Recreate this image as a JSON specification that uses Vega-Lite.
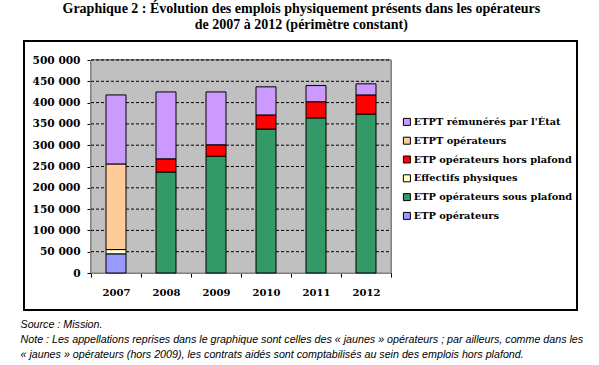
{
  "$schema": "https://vega.github.io/schema/vega-lite/v6.json",
  "autosize": {"type": "none"},
  "padding": {"left": 91, "top": 60, "right": 208, "bottom": 92},
  "width": 300,
  "height": 213,
  "background": "white",
  "config": {
    "locale": {"number": {"decimal": ",", "thousands": " ", "grouping": [3], "currency": ["", " €"]}},
    "view": {"stroke": null},
    "axisY": {
      "tickSize": 4, "tickColor": "black", "domainColor": "black",
      "labelFont": "DejaVu Serif", "labelFontWeight": "bold", "labelFontSize": 10.6, "labelColor": "black",
      "labelPadding": 7, "labelOverlap": false, "grid": false, "zindex": 1
    },
    "axisX": {
      "tickSize": 4, "tickColor": "black", "domainColor": "black",
      "labelFont": "DejaVu Serif", "labelFontWeight": "bold", "labelFontSize": 10, "labelColor": "black",
      "labelPadding": 10, "labelOverlap": false, "labelFlush": false, "grid": false, "zindex": 1,
      "titleFont": "Liberation Sans", "titleFontStyle": "italic", "titleFontWeight": "normal",
      "titleFontSize": 10.7, "titleColor": "black", "titleAnchor": "start", "titleAlign": "left",
      "titleBaseline": "alphabetic", "titleLineHeight": 15, "titleX": -71, "titleY": 54
    }
  },
  "title": {
    "text": ["Graphique 2 : Évolution des emplois physiquement présents dans les opérateurs", "de 2007 à 2012 (périmètre constant)"],
    "font": "Liberation Serif",
    "fontSize": 14,
    "fontWeight": "bold",
    "color": "black",
    "anchor": "middle",
    "frame": "bounds",
    "lineHeight": 16,
    "offset": 9
  },
  "data": {
    "values": [
      {"year": 2007, "series": "ETP opérateurs", "value": 45000},
      {"year": 2007, "series": "Effectifs physiques", "value": 10000},
      {"year": 2007, "series": "ETPT opérateurs", "value": 201000},
      {"year": 2007, "series": "ETPT rémunérés par l'État", "value": 162000},
      {"year": 2008, "series": "ETP opérateurs sous plafond", "value": 237000},
      {"year": 2008, "series": "ETP opérateurs hors plafond", "value": 31000},
      {"year": 2008, "series": "ETPT rémunérés par l'État", "value": 157000},
      {"year": 2009, "series": "ETP opérateurs sous plafond", "value": 274000},
      {"year": 2009, "series": "ETP opérateurs hors plafond", "value": 27000},
      {"year": 2009, "series": "ETPT rémunérés par l'État", "value": 124000},
      {"year": 2010, "series": "ETP opérateurs sous plafond", "value": 338000},
      {"year": 2010, "series": "ETP opérateurs hors plafond", "value": 33000},
      {"year": 2010, "series": "ETPT rémunérés par l'État", "value": 66000},
      {"year": 2011, "series": "ETP opérateurs sous plafond", "value": 364000},
      {"year": 2011, "series": "ETP opérateurs hors plafond", "value": 38000},
      {"year": 2011, "series": "ETPT rémunérés par l'État", "value": 38000},
      {"year": 2012, "series": "ETP opérateurs sous plafond", "value": 373000},
      {"year": 2012, "series": "ETP opérateurs hors plafond", "value": 45000},
      {"year": 2012, "series": "ETPT rémunérés par l'État", "value": 26000}
    ]
  },
  "layer": [
    {
      "mark": {"type": "rect", "color": "#C0C0C0", "stroke": "#808080", "strokeWidth": 1, "clip": false},
      "encoding": {
        "x": {"datum": 2006.5, "type": "quantitative",
          "axis": {
            "values": [2006.5, 2007, 2007.5, 2008, 2008.5, 2009, 2009.5, 2010, 2010.5, 2011, 2011.5, 2012, 2012.5],
            "labelExpr": "datum.value % 1 == 0 ? toString(datum.value) : ''",
            "tickOpacity": {"condition": {"test": "datum.value % 1 == 0", "value": 0}, "value": 1},
            "grid": false,
            "title": [
              "Source : Mission.",
              "Note : Les appellations reprises dans le graphique sont celles des « jaunes » opérateurs ; par ailleurs, comme dans les",
              "« jaunes » opérateurs (hors 2009), les contrats aidés sont comptabilisés au sein des emplois hors plafond."
            ]
          }
        },
        "x2": {"datum": 2012.5},
        "y": {"datum": 0, "type": "quantitative",
          "axis": {
            "values": [0, 50000, 100000, 150000, 200000, 250000, 300000, 350000, 400000, 450000, 500000],
            "format": ",d",
            "title": null,
            "grid": false
          }
        },
        "y2": {"datum": 500000}
      }
    },
    {
      "data": {"values": [{"gridValue": 50000}, {"gridValue": 100000}, {"gridValue": 150000}, {"gridValue": 200000}, {"gridValue": 250000}, {"gridValue": 300000}, {"gridValue": 350000}, {"gridValue": 400000}, {"gridValue": 450000}, {"gridValue": 500000}]},
      "mark": {"type": "rule", "color": "black", "strokeWidth": 1, "strokeDash": [3, 2]},
      "encoding": {
        "x": {"datum": 2006.5, "type": "quantitative",
          "axis": {
            "values": [2006.5, 2007, 2007.5, 2008, 2008.5, 2009, 2009.5, 2010, 2010.5, 2011, 2011.5, 2012, 2012.5],
            "labelExpr": "datum.value % 1 == 0 ? toString(datum.value) : ''",
            "tickOpacity": {"condition": {"test": "datum.value % 1 == 0", "value": 0}, "value": 1},
            "grid": false,
            "title": [
              "Source : Mission.",
              "Note : Les appellations reprises dans le graphique sont celles des « jaunes » opérateurs ; par ailleurs, comme dans les",
              "« jaunes » opérateurs (hors 2009), les contrats aidés sont comptabilisés au sein des emplois hors plafond."
            ]
          }
        },
        "x2": {"datum": 2012.5},
        "y": {"field": "gridValue", "type": "quantitative",
          "axis": {
            "values": [0, 50000, 100000, 150000, 200000, 250000, 300000, 350000, 400000, 450000, 500000],
            "format": ",d",
            "title": null,
            "grid": false
          }
        }
      }
    },
    {
      "transform": [
        {"calculate": "indexof(['ETP opérateurs', 'ETP opérateurs sous plafond', 'Effectifs physiques', 'ETP opérateurs hors plafond', 'ETPT opérateurs', 'ETPT rémunérés par l\\'État'], datum.series)", "as": "stack_order"}
      ],
      "mark": {"type": "bar", "size": 20, "stroke": "black", "strokeWidth": 1},
      "encoding": {
        "x": {
          "field": "year", "type": "quantitative",
          "scale": {"domain": [2006.5, 2012.5], "nice": false, "zero": false, "padding": 0},
          "axis": {
            "values": [2006.5, 2007, 2007.5, 2008, 2008.5, 2009, 2009.5, 2010, 2010.5, 2011, 2011.5, 2012, 2012.5],
            "labelExpr": "datum.value % 1 == 0 ? toString(datum.value) : ''",
            "tickOpacity": {"condition": {"test": "datum.value % 1 == 0", "value": 0}, "value": 1},
            "grid": false,
            "title": [
              "Source : Mission.",
              "Note : Les appellations reprises dans le graphique sont celles des « jaunes » opérateurs ; par ailleurs, comme dans les",
              "« jaunes » opérateurs (hors 2009), les contrats aidés sont comptabilisés au sein des emplois hors plafond."
            ]
          }
        },
        "y": {
          "field": "value", "type": "quantitative", "stack": "zero",
          "scale": {"domain": [0, 500000], "nice": false, "padding": 0},
          "axis": {
            "values": [0, 50000, 100000, 150000, 200000, 250000, 300000, 350000, 400000, 450000, 500000],
            "format": ",d",
            "title": null,
            "grid": false
          }
        },
        "color": {
          "field": "series", "type": "nominal",
          "scale": {
            "domain": ["ETPT rémunérés par l'État", "ETPT opérateurs", "ETP opérateurs hors plafond", "Effectifs physiques", "ETP opérateurs sous plafond", "ETP opérateurs"],
            "range": ["#CC99FF", "#FFCC99", "#FF0000", "#FFFFCC", "#339966", "#9999FF"]
          },
          "legend": {
            "title": null,
            "orient": "none",
            "legendX": 311,
            "legendY": 57,
            "symbolType": "square",
            "symbolSize": 49,
            "symbolStrokeColor": "black",
            "symbolStrokeWidth": 1,
            "labelFont": "DejaVu Serif",
            "labelFontWeight": "bold",
            "labelFontSize": 9.8,
            "labelColor": "black",
            "labelOffset": 2,
            "rowPadding": 6.8,
            "padding": 0,
            "labelLimit": 300
          }
        },
        "order": {"field": "stack_order", "type": "quantitative", "sort": "ascending"}
      }
    },
    {
      "mark": {"type": "rect", "filled": false, "color": "black", "strokeWidth": 1.3, "clip": false},
      "encoding": {
        "x": {"datum": 2005.16, "type": "quantitative",
          "axis": {
            "values": [2006.5, 2007, 2007.5, 2008, 2008.5, 2009, 2009.5, 2010, 2010.5, 2011, 2011.5, 2012, 2012.5],
            "labelExpr": "datum.value % 1 == 0 ? toString(datum.value) : ''",
            "tickOpacity": {"condition": {"test": "datum.value % 1 == 0", "value": 0}, "value": 1},
            "grid": false,
            "title": [
              "Source : Mission.",
              "Note : Les appellations reprises dans le graphique sont celles des « jaunes » opérateurs ; par ailleurs, comme dans les",
              "« jaunes » opérateurs (hors 2009), les contrats aidés sont comptabilisés au sein des emplois hors plafond."
            ]
          }
        },
        "x2": {"datum": 2016.22},
        "y": {"datum": -87000, "type": "quantitative",
          "axis": {
            "values": [0, 50000, 100000, 150000, 200000, 250000, 300000, 350000, 400000, 450000, 500000],
            "format": ",d",
            "title": null,
            "grid": false
          }
        },
        "y2": {"datum": 543500}
      }
    }
  ]
}
